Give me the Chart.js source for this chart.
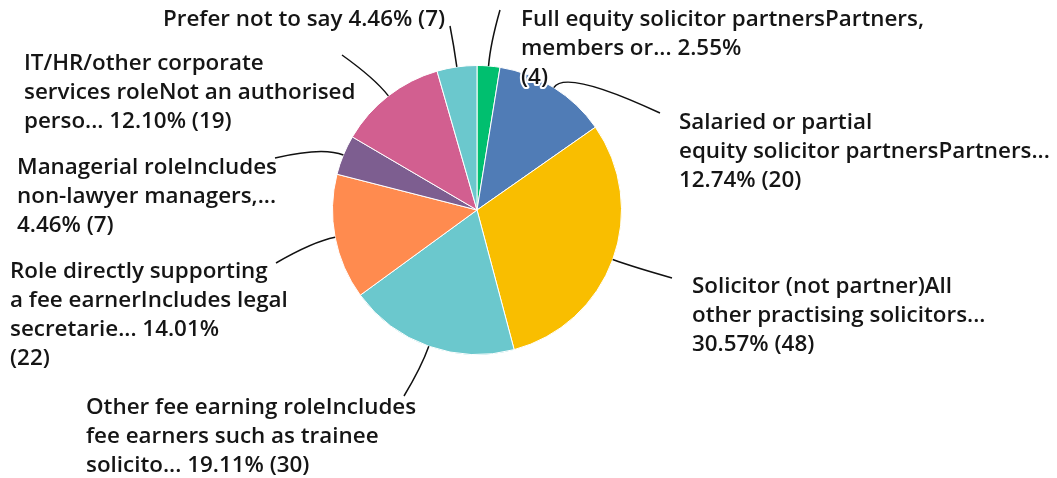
<!DOCTYPE html>
<html>
<head>
<meta charset="utf-8">
<script src="https://cdn.jsdelivr.net/npm/chart.js@4.4.1/dist/chart.umd.min.js"></script>
<style>
  html, body { margin: 0; padding: 0; background: #fff; }
  #wrap { width: 1057px; height: 478px; position: relative; }
</style>
</head>
<body>
<div id="wrap"><canvas id="pie"></canvas></div>
<script>
// answer options, clockwise from 12 o'clock
const categories = [
  'Full equity solicitor partnersPartners, members or...',
  'Salaried or partial equity solicitor partnersPartners...',
  'Solicitor (not partner)All other practising solicitors...',
  'Other fee earning roleIncludes fee earners such as trainee solicito...',
  'Role directly supporting a fee earnerIncludes legal secretarie...',
  'Managerial roleIncludes non-lawyer managers,...',
  'IT/HR/other corporate services roleNot an authorised perso...',
  'Prefer not to say'
];
const counts = [4, 20, 48, 30, 22, 7, 19, 7];
const percents = ['2.55%', '12.74%', '30.57%', '19.11%', '14.01%', '4.46%', '12.10%', '4.46%'];
const sliceColors = ['#00bf6f', '#507cb6', '#f9be00', '#6bc8cd', '#ff8b4f', '#7d5e90', '#d25f90', '#6bc8cd'];

// wrapped label text as it appears beside each slice
const labelLines = [
  ['Full equity solicitor partnersPartners,', 'members or... 2.55%', '(4)'],
  ['Salaried or partial', 'equity solicitor partnersPartners...', '12.74% (20)'],
  ['Solicitor (not partner)All', 'other practising solicitors...', '30.57% (48)'],
  ['Other fee earning roleIncludes', 'fee earners such as trainee', 'solicito... 19.11% (30)'],
  ['Role directly supporting', 'a fee earnerIncludes legal', 'secretarie... 14.01%', '(22)'],
  ['Managerial roleIncludes', 'non-lawyer managers,...', '4.46% (7)'],
  ['IT/HR/other corporate', 'services roleNot an authorised', 'perso... 12.10% (19)'],
  ['Prefer not to say 4.46% (7)']
];

// label box placement (text left, first baseline) and leader end point
const labelBoxes = [
  { x: 521, y: 26,  lx: 500, ly: 10 },
  { x: 679, y: 129, lx: 660, ly: 113 },
  { x: 692, y: 293, lx: 672, ly: 278 },
  { x: 86,  y: 414, lx: 404, ly: 396 },
  { x: 10,  y: 278, lx: 276, ly: 263 },
  { x: 17,  y: 174, lx: 275, ly: 158 },
  { x: 24,  y: 70,  lx: 342, ly: 55 },
  { x: 163, y: 26,  lx: 450, ly: 26 }
];

const LINE_H = 29;
const FONT = '600 22.4px "Open Sans", sans-serif';

const outerLabels = {
  id: 'outerLabels',
  afterDatasetsDraw(chart) {
    const ctx = chart.ctx;
    const arcs = chart.getDatasetMeta(0).data;
    ctx.save();
    // leader lines
    arcs.forEach((arc, i) => {
      const p = arc.getProps(['x', 'y', 'startAngle', 'endAngle', 'outerRadius'], true);
      const mid = (p.startAngle + p.endAngle) / 2;
      const sx = p.x + Math.cos(mid) * p.outerRadius;
      const sy = p.y + Math.sin(mid) * p.outerRadius;
      const cx = p.x + Math.cos(mid) * (p.outerRadius + 22);
      const cy = p.y + Math.sin(mid) * (p.outerRadius + 22);
      const b = labelBoxes[i];
      ctx.beginPath();
      ctx.moveTo(sx, sy);
      ctx.quadraticCurveTo(cx, cy, b.lx, b.ly);
      ctx.strokeStyle = '#111';
      ctx.lineWidth = 1.5;
      ctx.stroke();
    });
    // text with white halo
    ctx.font = FONT;
    ctx.textAlign = 'left';
    ctx.textBaseline = 'alphabetic';
    ctx.lineJoin = 'round';
    labelLines.forEach((lines, i) => {
      const b = labelBoxes[i];
      lines.forEach((t, k) => {
        ctx.strokeStyle = '#fff';
        ctx.lineWidth = 4;
        ctx.strokeText(t, b.x, b.y + k * LINE_H);
        ctx.fillStyle = '#151515';
        ctx.fillText(t, b.x, b.y + k * LINE_H);
      });
    });
    ctx.restore();
  }
};

new Chart(document.getElementById('pie'), {
  type: 'pie',
  data: {
    labels: categories,
    datasets: [{
      data: counts,
      backgroundColor: sliceColors,
      borderColor: '#ffffff',
      borderWidth: 1
    }]
  },
  options: {
    responsive: true,
    maintainAspectRatio: false,
    animation: false,
    layout: { padding: { left: 332, right: 435, top: 65, bottom: 123 } },
    plugins: {
      legend: { display: false },
      tooltip: { enabled: false }
    }
  },
  plugins: [outerLabels]
});
</script>
</body>
</html>
